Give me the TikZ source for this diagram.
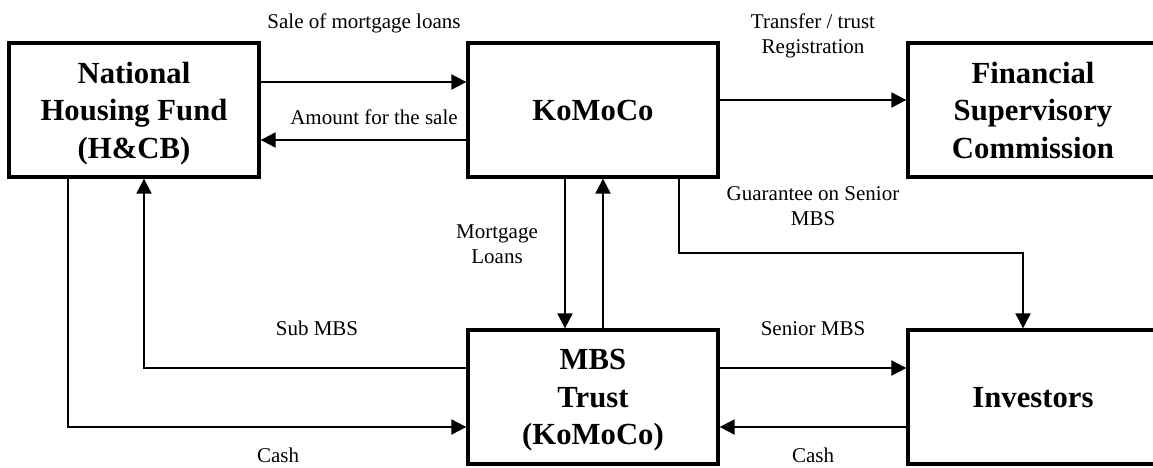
\documentclass[tikz,border=0pt]{standalone}
\usepackage{fontspec}
\setmainfont{Liberation Serif}
\usetikzlibrary{arrows.meta,positioning,calc}

\begin{document}
\begin{tikzpicture}[x=1pt,y=-1pt]
\tikzstyle{every node}+=[inner sep=0pt]
\tikzstyle{party}=[draw,line width=3.3pt,minimum width=250pt,minimum height=134pt,align=center,text depth=0pt,font=\fontsize{30.7}{37.5}\selectfont\bfseries]
\tikzstyle{flow}=[line width=2pt,-{Triangle[length=15pt,width=15pt]}]
\tikzstyle{lbl}=[align=center,font=\fontsize{21}{25}\selectfont,anchor=base]
\useasboundingbox (0,0) rectangle (1153,467);
\clip (0,0) rectangle (1153,467);
% boxes
\node[party] (nhf) at (134,110) {National\\Housing Fund\\(H\&CB)};
\node[party] (komoco) at (593,110) {KoMoCo};
\node[party] (fsc) at (1033,110) {Financial\\Supervisory\\Commission};
\node[party] (trust) at (593,397) {MBS\\Trust\\(KoMoCo)};
\node[party] (inv) at (1033,397) {Investors};
% flows
\draw[flow] ([yshift=28pt]nhf.east) -- ([yshift=28pt]komoco.west);
\draw[flow] ([yshift=-30pt]komoco.west) -- ([yshift=-30pt]nhf.east);
\draw[flow] ([yshift=10pt]komoco.east) -- ([yshift=10pt]fsc.west);
\draw[flow] ([xshift=-28pt]komoco.south) -- ([xshift=-28pt]trust.north);
\draw[flow] ([xshift=10pt]trust.north) -- ([xshift=10pt]komoco.south);
\draw[flow] ([xshift=86pt]komoco.south) -- ++(0,74) -| ([xshift=-10pt]inv.north);
\draw[flow] ([yshift=29pt]trust.east) -- ([yshift=29pt]inv.west);
\draw[flow] ([yshift=-30pt]inv.west) -- ([yshift=-30pt]trust.east);
\draw[flow] ([yshift=29pt]trust.west) -| ([xshift=10pt]nhf.south);
\draw[flow] ([xshift=-66pt]nhf.south) |- ([yshift=-30pt]trust.west);
% labels
\node[lbl] (sale) at (364,28) {Sale of mortgage loans};
\node[lbl] (amount) at (374,124) {Amount for the sale};
\node[lbl] (transfer) at (813,53) {Transfer / trust\\Registration};
\node[lbl] (guar) at (813,225) {Guarantee on Senior\\MBS};
\node[lbl] (mortgage) at (497,263) {Mortgage\\Loans};
\node[lbl] (sub) at (317,335) {Sub MBS};
\node[lbl] (senior) at (813,335) {Senior MBS};
\node[lbl] (cashl) at (278,462) {Cash};
\node[lbl] (cashr) at (813,462) {Cash};
\end{tikzpicture}
\end{document}
